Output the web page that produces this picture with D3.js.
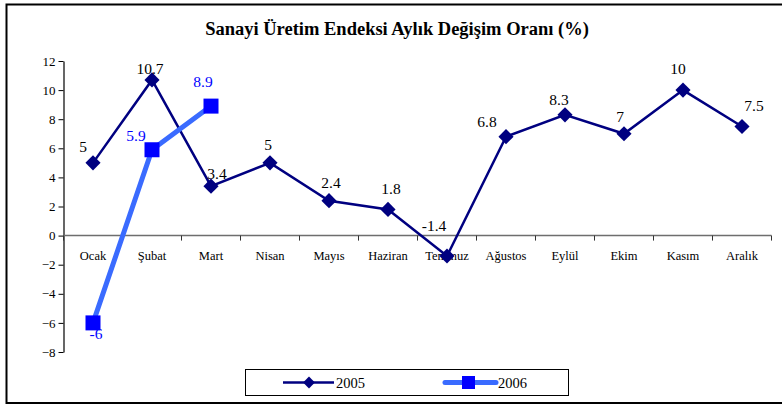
<!DOCTYPE html>
<html>
<head>
<meta charset="utf-8">
<script src="https://cdn.jsdelivr.net/npm/d3@7"></script>
<style>
  body { margin: 0; background: #fff; }
  svg text { font-family: "Liberation Serif", "Times New Roman", serif; }
</style>
</head>
<body>
<svg id="chart"></svg>
<script>
const months = ["Ocak", "Şubat", "Mart", "Nisan", "Mayıs", "Haziran", "Temmuz", "Ağustos", "Eylül", "Ekim", "Kasım", "Aralık"];
const values2005 = [5, 10.7, 3.4, 5, 2.4, 1.8, -1.4, 6.8, 8.3, 7, 10, 7.5];
const values2006 = [-6, 5.9, 8.9];
const yTicks = [12, 10, 8, 6, 4, 2, 0, -2, -4, -6, -8];

const width = 782, height = 406;
const margin = { top: 61, left: 63.5 };
const innerW = 708;

const svg = d3.select("#chart")
  .attr("width", width)
  .attr("height", height);

// outer frame (right edge runs off the picture)
svg.append("path")
  .attr("d", `M${width + 5},4.5 H6.5 V403 H${width + 5}`)
  .attr("fill", "none")
  .attr("stroke", "#000")
  .attr("stroke-width", 2);

svg.append("text")
  .attr("x", 397)
  .attr("y", 35)
  .attr("text-anchor", "middle")
  .attr("font-size", 18.5)
  .attr("font-weight", "bold")
  .text("Sanayi Üretim Endeksi Aylık Değişim Oranı (%)");

const xScale = d3.scaleBand()
  .domain(months)
  .range([margin.left, margin.left + innerW]);

const yScale = d3.scaleLinear()
  .domain([-8, 12])
  .range([352, margin.top]);

const xCenter = d => xScale(d) + xScale.bandwidth() / 2;

// y axis
const yAxis = svg.append("g")
  .attr("transform", `translate(${margin.left},0)`)
  .call(d3.axisLeft(yScale).tickValues(yTicks).tickSize(5).tickSizeOuter(0).tickFormat(d3.format("d")));
yAxis.select(".domain").attr("stroke", "#000").attr("stroke-width", 1.2);
yAxis.selectAll(".tick line").attr("stroke", "#000");
yAxis.selectAll(".tick text")
  .attr("font-size", 13)
  .attr("fill", "#000")
  .attr("x", -8);

// zero line with category ticks
const zeroY = yScale(0);
svg.append("line")
  .attr("x1", margin.left).attr("x2", margin.left + innerW)
  .attr("y1", zeroY).attr("y2", zeroY)
  .attr("stroke", "#6e6e6e")
  .attr("stroke-width", 1.5);

svg.append("g").selectAll("line")
  .data(d3.range(months.length + 1))
  .join("line")
  .attr("x1", i => margin.left + i * xScale.step())
  .attr("x2", i => margin.left + i * xScale.step())
  .attr("y1", zeroY)
  .attr("y2", zeroY + 5)
  .attr("stroke", "#333");

svg.append("g").selectAll("text")
  .data(months)
  .join("text")
  .attr("x", d => xCenter(d))
  .attr("y", zeroY + 24)
  .attr("text-anchor", "middle")
  .attr("font-size", 12.5)
  .text(d => d);

// 2005 series
const navy = "#000080";
const line = d3.line()
  .x((d, i) => xCenter(months[i]))
  .y(d => yScale(d));

svg.append("path")
  .datum(values2005)
  .attr("d", line)
  .attr("fill", "none")
  .attr("stroke", navy)
  .attr("stroke-width", 2.5);

svg.append("g").selectAll("path")
  .data(values2005)
  .join("path")
  .attr("d", d3.symbol().type(d3.symbolSquare).size(115))
  .attr("transform", (d, i) => `translate(${xCenter(months[i])},${yScale(d)}) rotate(45)`)
  .attr("fill", navy);

// label placement relative to the point, as the original chart had them
const labelShift2005 = [[-10, -11], [-2, -6], [6, -7], [-2, -13], [2, -13], [3, -15],
                        [-13, -25], [-19, -10], [-6, -10], [-4, -12], [-5, -16], [12, -15]];
svg.append("g").selectAll("text")
  .data(values2005)
  .join("text")
  .attr("x", (d, i) => xCenter(months[i]) + labelShift2005[i][0])
  .attr("y", (d, i) => yScale(d) + labelShift2005[i][1])
  .attr("text-anchor", "middle")
  .attr("font-size", 15.5)
  .attr("fill", "#000")
  .text(d => d);

// 2006 series
const blue2006 = "#3a6bff";
svg.append("path")
  .datum(values2006)
  .attr("d", line)
  .attr("fill", "none")
  .attr("stroke", blue2006)
  .attr("stroke-width", 5);

svg.append("g").selectAll("rect")
  .data(values2006)
  .join("rect")
  .attr("x", (d, i) => xCenter(months[i]) - 7.5)
  .attr("y", d => yScale(d) - 7.5)
  .attr("width", 15)
  .attr("height", 15)
  .attr("fill", "#0000ff");

const labelShift2006 = [[3, 16], [-16, -9], [-8, -19]];
svg.append("g").selectAll("text")
  .data(values2006)
  .join("text")
  .attr("x", (d, i) => xCenter(months[i]) + labelShift2006[i][0])
  .attr("y", (d, i) => yScale(d) + labelShift2006[i][1])
  .attr("text-anchor", "middle")
  .attr("font-size", 15.5)
  .attr("fill", "#0000ff")
  .text(d => d);

// legend
const legend = svg.append("g");
legend.append("rect")
  .attr("x", 245.5).attr("y", 369.5)
  .attr("width", 323).attr("height", 26)
  .attr("fill", "#fff")
  .attr("stroke", "#000");

const ly = 382.5;
legend.append("line")
  .attr("x1", 283).attr("x2", 334).attr("y1", ly).attr("y2", ly)
  .attr("stroke", navy).attr("stroke-width", 2.5);
legend.append("path")
  .attr("d", d3.symbol().type(d3.symbolSquare).size(70))
  .attr("transform", `translate(309,${ly}) rotate(45)`)
  .attr("fill", navy);
legend.append("text")
  .attr("x", 336).attr("y", ly + 5)
  .attr("font-size", 14.5)
  .text("2005");

legend.append("line")
  .attr("x1", 445).attr("x2", 496).attr("y1", ly).attr("y2", ly)
  .attr("stroke", blue2006).attr("stroke-width", 5)
  .attr("stroke-linecap", "round");
legend.append("rect")
  .attr("x", 462).attr("y", ly - 6.5)
  .attr("width", 13).attr("height", 13)
  .attr("fill", "#0000ff");
legend.append("text")
  .attr("x", 498).attr("y", ly + 5)
  .attr("font-size", 14.5)
  .text("2006");
</script>
</body>
</html>
